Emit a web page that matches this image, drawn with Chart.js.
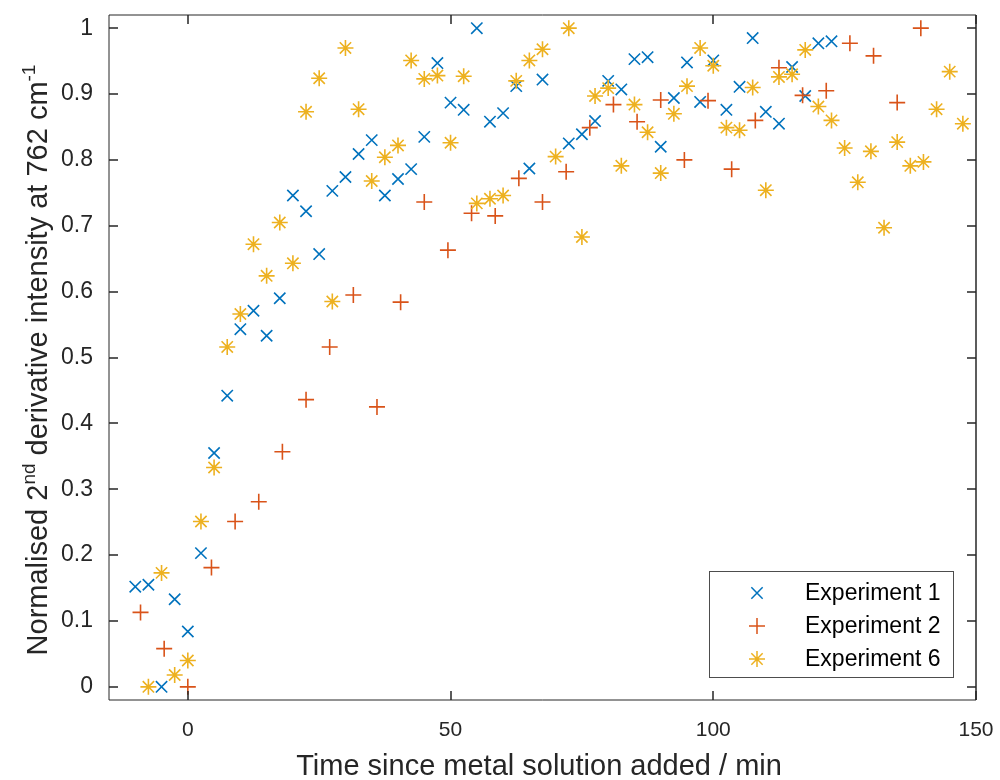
<!DOCTYPE html>
<html>
<head>
<meta charset="utf-8">
<script src="https://cdn.jsdelivr.net/npm/chart.js@4.4.1/dist/chart.umd.min.js"></script>
<style>
  html, body { margin: 0; padding: 0; background: #fff; }
  #wrap { width: 1000px; height: 780px; }
</style>
</head>
<body>
<div id="wrap"><canvas id="kinetics"></canvas></div>
<script>
// time after metal addition (min) and normalised intensity for each run
const expOneTime = [-10, -7.5, -5, -2.5, 0, 2.5, 5, 7.5, 10, 12.5, 15, 17.5, 20, 22.5, 25, 27.5, 30, 32.5, 35, 37.5,
  40, 42.5, 45, 47.5, 50, 52.5, 55, 57.5, 60, 62.5, 65, 67.5, 72.5, 75, 77.5, 80, 82.5, 85, 87.5, 90,
  92.5, 95, 97.5, 100, 102.5, 105, 107.5, 110, 112.5, 115, 117.5, 120, 122.5];
const expOneValue = [0.152, 0.155, 0.0, 0.133, 0.084, 0.203, 0.355, 0.442, 0.543, 0.571, 0.533, 0.590, 0.746, 0.722, 0.657, 0.753, 0.774, 0.809, 0.830, 0.746,
  0.771, 0.786, 0.835, 0.947, 0.887, 0.876, 1.0, 0.858, 0.871, 0.912, 0.787, 0.922, 0.825, 0.839, 0.859, 0.920, 0.907, 0.953, 0.956, 0.820,
  0.894, 0.948, 0.888, 0.951, 0.876, 0.911, 0.985, 0.873, 0.855, 0.941, 0.897, 0.977, 0.980];

const expTwoTime = [-9, -4.5, 0, 4.5, 9, 13.5, 18, 22.5, 27, 31.5, 36, 40.5, 45, 49.5, 54, 58.5, 63, 67.5, 72, 76.5,
  81, 85.5, 90, 94.5, 99, 103.5, 108, 112.5, 117, 121.5, 126, 130.5, 135, 139.5];
const expTwoValue = [0.113, 0.058, 0.0, 0.181, 0.251, 0.281, 0.357, 0.436, 0.516, 0.595, 0.425, 0.584, 0.736, 0.663, 0.719, 0.715, 0.772, 0.736, 0.782, 0.849,
  0.884, 0.858, 0.891, 0.800, 0.890, 0.786, 0.860, 0.940, 0.898, 0.905, 0.977, 0.958, 0.887, 1.0];

const expSixTime = [-7.5, -5, -2.5, 0, 2.5, 5, 7.5, 10, 12.5, 15, 17.5, 20, 22.5, 25, 27.5, 30, 32.5, 35, 37.5, 40,
  42.5, 45, 47.5, 50, 52.5, 55, 57.5, 60, 62.5, 65, 67.5, 70, 72.5, 75, 77.5, 80, 82.5, 85, 87.5, 90,
  92.5, 95, 97.5, 100, 102.5, 105, 107.5, 110, 112.5, 115, 117.5, 120, 122.5, 125, 127.5, 130, 132.5, 135, 137.5, 140,
  142.5, 145, 147.5];
const expSixValue = [0.0, 0.173, 0.018, 0.040, 0.251, 0.333, 0.516, 0.566, 0.672, 0.624, 0.705, 0.643, 0.873, 0.924, 0.585, 0.970, 0.877, 0.768, 0.804, 0.822,
  0.951, 0.923, 0.928, 0.826, 0.927, 0.734, 0.741, 0.746, 0.920, 0.951, 0.968, 0.805, 1.0, 0.683, 0.897, 0.909, 0.791, 0.884, 0.842, 0.780,
  0.870, 0.912, 0.970, 0.943, 0.849, 0.845, 0.910, 0.754, 0.926, 0.930, 0.967, 0.881, 0.860, 0.818, 0.766, 0.813, 0.697, 0.827, 0.791, 0.797,
  0.877, 0.934, 0.855];

const seriesNames = ["Experiment 1", "Experiment 2", "Experiment 6"];
const xTicks = [0, 50, 100, 150];
const yTicks = [0, 0.1, 0.2, 0.3, 0.4, 0.5, 0.6, 0.7, 0.8, 0.9, 1];

const colours = ["#0072BD", "#D95319", "#EDB120"];
const markers = ["crossRot", "cross", "star"];
const axisInk = "#262626";
const fontFamily = "'Liberation Sans', Arial, sans-serif";

function toPoints(xs, ys) {
  return xs.map((t, i) => ({ x: t, y: ys[i] }));
}

function markerPath(ctx, style, cx, cy, r) {
  const d = r * Math.SQRT1_2;
  ctx.beginPath();
  if (style === "cross" || style === "star") {
    ctx.moveTo(cx - r, cy); ctx.lineTo(cx + r, cy);
    ctx.moveTo(cx, cy - r); ctx.lineTo(cx, cy + r);
  }
  if (style === "crossRot" || style === "star") {
    ctx.moveTo(cx - d, cy - d); ctx.lineTo(cx + d, cy + d);
    ctx.moveTo(cx + d, cy - d); ctx.lineTo(cx - d, cy + d);
  }
  ctx.stroke();
}

// box with inward ticks, axis titles with superscripts, legend
const boxAndText = {
  id: "boxAndText",
  afterDraw(chart) {
    const { ctx, chartArea: a, scales } = chart;
    const sx = scales.x, sy = scales.y;
    ctx.save();

    // frame
    ctx.strokeStyle = axisInk;
    ctx.lineWidth = 1;
    ctx.beginPath();
    ctx.moveTo(a.left, a.top); ctx.lineTo(a.right, a.top);
    ctx.moveTo(a.left, a.bottom); ctx.lineTo(a.right, a.bottom);
    ctx.moveTo(a.left, a.top); ctx.lineTo(a.left, a.bottom);
    ctx.stroke();
    ctx.lineWidth = 1.5;
    ctx.beginPath();
    ctx.moveTo(a.right, a.top); ctx.lineTo(a.right, a.bottom);
    ctx.stroke();

    // ticks on all four sides, pointing in
    const len = 9;
    ctx.lineWidth = 1.5;
    ctx.beginPath();
    xTicks.forEach(v => {
      const px = Math.round(sx.getPixelForValue(v));
      ctx.moveTo(px, a.bottom); ctx.lineTo(px, a.bottom - len);
      ctx.moveTo(px, a.top); ctx.lineTo(px, a.top + len);
    });
    yTicks.forEach(v => {
      const py = Math.round(sy.getPixelForValue(v));
      ctx.moveTo(a.left, py); ctx.lineTo(a.left + len, py);
      ctx.moveTo(a.right, py); ctx.lineTo(a.right - len, py);
    });
    ctx.stroke();

    // x title
    ctx.fillStyle = axisInk;
    ctx.font = "29px " + fontFamily;
    ctx.textAlign = "center";
    ctx.textBaseline = "alphabetic";
    ctx.fillText("Time since metal solution added / min", 539, 775);

    // y title, rotated, with superscripts
    const parts = [
      { t: "Normalised 2", sup: false },
      { t: "nd", sup: true },
      { t: " derivative intensity at 762 cm", sup: false },
      { t: "-1", sup: true }
    ];
    const big = "29px " + fontFamily, small = "19px " + fontFamily;
    let total = 0;
    parts.forEach(p => { ctx.font = p.sup ? small : big; p.w = ctx.measureText(p.t).width; total += p.w; });
    ctx.translate(47, 360);
    ctx.rotate(-Math.PI / 2);
    ctx.textAlign = "left";
    let cx = -total / 2;
    parts.forEach(p => {
      ctx.font = p.sup ? small : big;
      ctx.fillText(p.t, cx, p.sup ? -12 : 0);
      cx += p.w;
    });
    ctx.setTransform(1, 0, 0, 1, 0, 0);

    // legend
    const lx = 709.5, ly = 571.5, lw = 244, lh = 106;
    ctx.fillStyle = "#fff";
    ctx.fillRect(lx, ly, lw, lh);
    ctx.strokeStyle = "#4d4d4d";
    ctx.lineWidth = 1;
    ctx.strokeRect(lx, ly, lw, lh);
    const rows = [593, 626, 659];
    ctx.font = "23px " + fontFamily;
    ctx.textAlign = "left";
    ctx.textBaseline = "middle";
    seriesNames.forEach((name, i) => {
      ctx.strokeStyle = colours[i];
      ctx.lineWidth = 1.5;
      markerPath(ctx, markers[i], 757, rows[i], 8);
      ctx.fillStyle = "#000";
      ctx.fillText(name, 805, rows[i] + 1);
    });
    ctx.restore();
  }
};

const ctx = document.getElementById("kinetics").getContext("2d");
new Chart(ctx, {
  type: "scatter",
  data: {
    datasets: [
      { label: seriesNames[0], data: toPoints(expOneTime, expOneValue), order: 3 },
      { label: seriesNames[1], data: toPoints(expTwoTime, expTwoValue), order: 2 },
      { label: seriesNames[2], data: toPoints(expSixTime, expSixValue), order: 1 }
    ].map((ds, i) => Object.assign(ds, {
      pointStyle: markers[i],
      pointRadius: 8,
      pointHoverRadius: 8,
      pointBorderWidth: 1.6,
      borderColor: colours[i],
      backgroundColor: "rgba(0,0,0,0)",
      showLine: false
    }))
  },
  options: {
    responsive: true,
    maintainAspectRatio: false,
    animation: false,
    layout: { padding: { top: 15, right: 24, left: 0, bottom: 0 } },
    plugins: { legend: { display: false }, tooltip: { enabled: false } },
    scales: {
      x: {
        type: "linear",
        min: -15,
        max: 150,
        grid: { display: false },
        border: { display: false },
        afterBuildTicks: s => { s.ticks = xTicks.map(v => ({ value: v })); },
        afterFit: s => { s.height = 80; s.paddingLeft = 0; s.paddingRight = 0; },
        ticks: {
          padding: 10,
          maxRotation: 0,
          color: axisInk,
          font: { family: fontFamily, size: 21 },
          callback: v => String(v)
        }
      },
      y: {
        type: "linear",
        min: -0.02,
        max: 1.02,
        grid: { display: false },
        border: { display: false },
        afterBuildTicks: s => { s.ticks = yTicks.map(v => ({ value: v })); },
        afterFit: s => { s.width = 109; s.paddingTop = 0; s.paddingBottom = 0; },
        ticks: {
          padding: 8,
          color: axisInk,
          font: { family: fontFamily, size: 23 },
          callback: v => (Math.round(v * 10) / 10).toString()
        }
      }
    }
  },
  plugins: [boxAndText]
});
</script>
</body>
</html>
